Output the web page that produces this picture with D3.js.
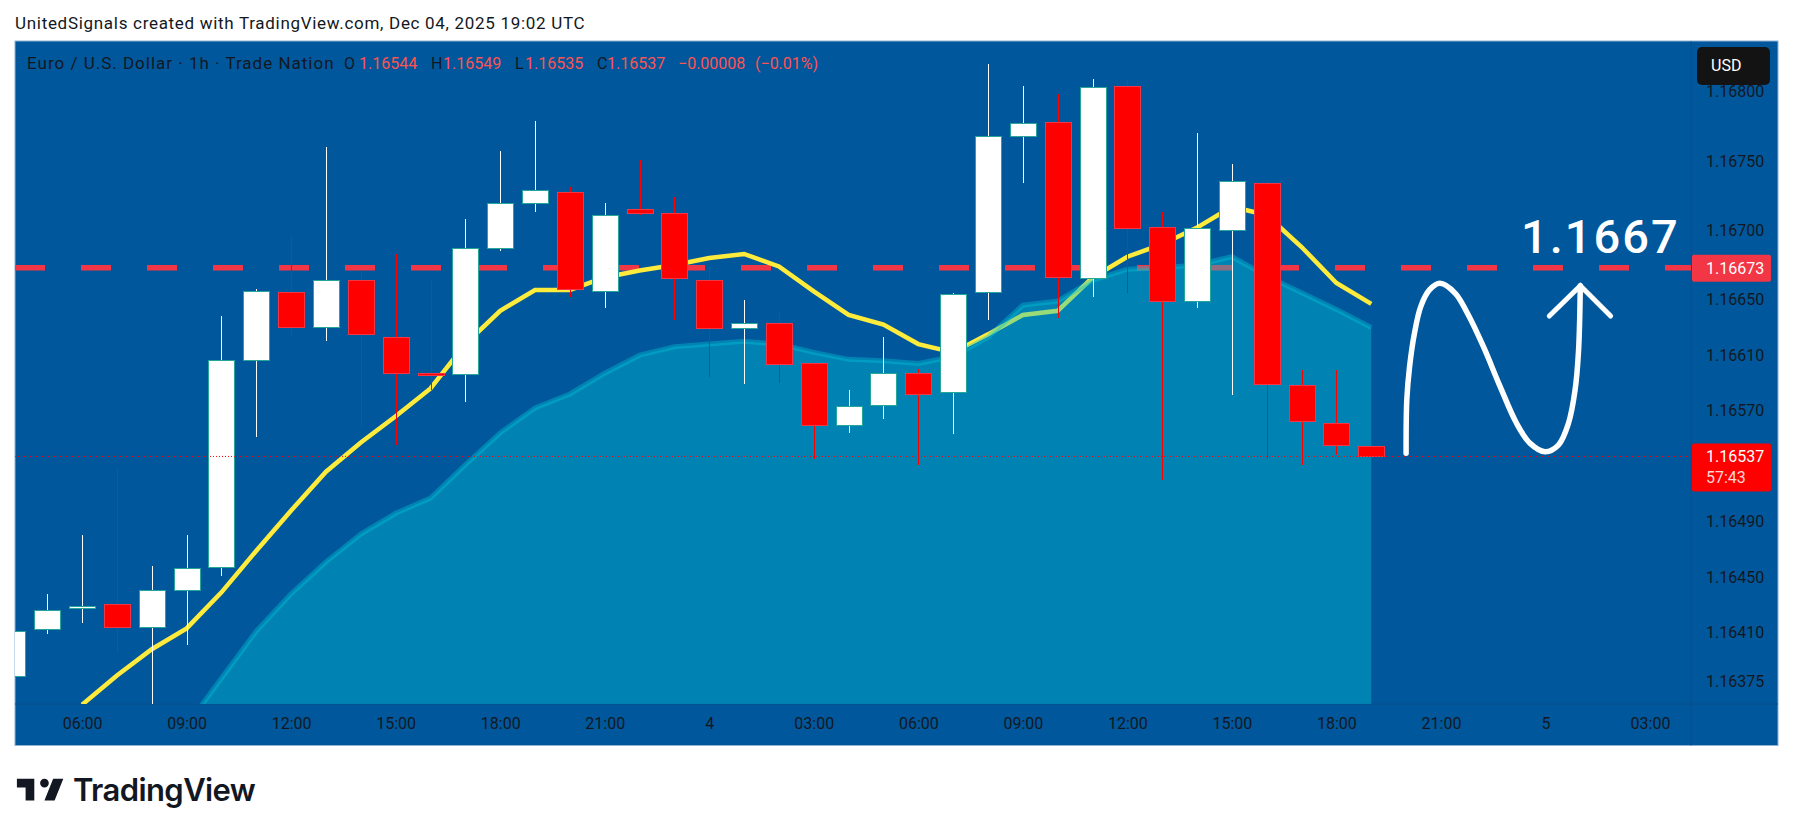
<!DOCTYPE html>
<html>
<head>
<meta charset="utf-8">
<script src="https://cdn.jsdelivr.net/npm/d3@7"></script>
<style>
  html, body { margin: 0; padding: 0; background: #fff; }
  svg { display: block; }
  text { font-family: Roboto, sans-serif; font-size: 16px; }
</style>
</head>
<body>
<script>
// hours counted from Dec 3 00:00 UTC
var candleHours = [4,5,6,7,8,9,10,11,12,13,14,15,16,17,18,19,20,21,22,23,24,25,26,27,28,29,30,31,32,33,34,35,36,37,38,39,40,41,42,43];
var opens = [1.16378,1.16412,1.16427,1.16430,1.16414,1.16440,1.16457,1.16606,1.16655,1.16630,1.16664,1.16623,1.16597,1.16596,1.16687,1.16719,1.16727,1.16656,1.16715,1.16712,1.16664,1.16629,1.16633,1.16604,1.16559,1.16574,1.16597,1.16583,1.16655,1.16768,1.16778,1.16665,1.16804,1.16702,1.16649,1.16700,1.16734,1.16588,1.16561,1.16544];
var highs = [1.16415,1.16438,1.16480,1.16529,1.16458,1.16480,1.16638,1.16658,1.16696,1.16760,1.16670,1.16683,1.16664,1.16708,1.16757,1.16779,1.16731,1.16720,1.16751,1.16724,1.16674,1.16650,1.16641,1.16604,1.16585,1.16623,1.16600,1.16655,1.16820,1.16804,1.16798,1.16809,1.16809,1.16713,1.16770,1.16748,1.16736,1.16599,1.16599,1.16549];
var lows = [1.16365,1.16409,1.16417,1.16395,1.16355,1.16401,1.16451,1.16551,1.16623,1.16620,1.16558,1.16545,1.16585,1.16576,1.16685,1.16713,1.16652,1.16644,1.16711,1.16635,1.16594,1.16589,1.16590,1.16535,1.16554,1.16564,1.16531,1.16553,1.16635,1.16734,1.16637,1.16652,1.16655,1.16520,1.16644,1.16581,1.16535,1.16531,1.16538,1.16535];
var closes = [1.16411,1.16426,1.16429,1.16414,1.16440,1.16456,1.16606,1.16656,1.16630,1.16664,1.16625,1.16597,1.16595,1.16687,1.16719,1.16729,1.16657,1.16711,1.16712,1.16665,1.16629,1.16633,1.16603,1.16559,1.16573,1.16597,1.16582,1.16654,1.16768,1.16777,1.16666,1.16803,1.16701,1.16649,1.16701,1.16735,1.16589,1.16562,1.16545,1.16537];

var fastHours = [6,7,8,9,10,11,12,13,14,15,16,17,18,19,20,21,22,23,24,25,26,27,28,29,30,31,32,33,34,35,36,37,38,39,40,41,42,43];
var fastValues = [1.16358,1.16379,1.16398,1.16413,1.16439,1.16469,1.16498,1.16526,1.16547,1.16566,1.16586,1.16618,1.16642,1.16657,1.16657,1.16666,1.16671,1.16675,1.16680,1.16683,1.16674,1.16656,1.16639,1.16632,1.16618,1.16612,1.16625,1.16639,1.16642,1.16666,1.16681,1.16690,1.16702,1.16717,1.16711,1.16688,1.16662,1.16647];

var slowHours = [9,10,11,12,13,14,15,16,17,18,19,20,21,22,23,24,25,26,27,28,29,30,31,32,33,34,35,36,37,38,39,40,41,42,43];
var slowValues = [1.16343,1.16377,1.16411,1.16438,1.16461,1.16481,1.16496,1.16507,1.16531,1.16554,1.16572,1.16582,1.16597,1.16610,1.16616,1.16618,1.16620,1.16618,1.16612,1.16607,1.16606,1.16604,1.16609,1.16623,1.16646,1.16649,1.16664,1.16672,1.16673,1.16675,1.16681,1.16667,1.16655,1.16643,1.16630];

var targetLevel = 1.16673;
var lastPrice = 1.16537;

// hand drawn projection, in hours and price
var brushHours = [44,44.02,44.10,44.24,44.42,44.67,44.97,45.41,45.76,46.22,46.70,47.17,47.56,47.99,48.37,48.66,48.85,48.95,49];
var brushPrices = [1.165392,1.165777,1.166017,1.166258,1.166450,1.166570,1.166618,1.166546,1.166402,1.166161,1.165873,1.165609,1.165464,1.165404,1.165452,1.165609,1.165849,1.166137,1.166600];
var arrowHours = [48.11,49,49.87];
var arrowPrices = [1.166382,1.166600,1.166382];

var priceTicks = [1.168,1.1675,1.167,1.1665,1.1661,1.1657,1.1649,1.1645,1.1641,1.16375];
var timeTicks = [6,9,12,15,18,21,24,27,30,33,36,39,42,45,48,51];
var timeLabels = ["06:00","09:00","12:00","15:00","18:00","21:00","4","03:00","06:00","09:00","12:00","15:00","18:00","21:00","5","03:00"];

var legendParts = [
  ["Euro / U.S. Dollar \u00b7 1h \u00b7 Trade Nation", 27, "dark"],
  ["O", 344, "dark"], ["1.16544", 359, "red"],
  ["H", 431, "dark"], ["1.16549", 443, "red"],
  ["L", 515, "dark"], ["1.16535", 525, "red"],
  ["C", 597, "dark"], ["1.16537", 607, "red"],
  ["\u22120.00008", 678, "red"], ["(\u22120.01%)", 755, "red"]
];

var _width = 1793;
var _height = 836;
var frame = {left: 15, top: 41, right: 1778, bottom: 745.5};
var plotRight = 1691;
var plotBottom = 704;
var bgColor = "#00579b";
var textDark = "#131722";
var lineRed = "#f23645";
var slowColor = "#00c3d7";
var candleWidth = 26;

var _xScale = d3.scaleLinear().domain([6, 51]).range([82.1, 1650]);
var _yScale = d3.scaleLinear().domain([1.1675, 1.16375]).range([161, 681.1]);

var svg = d3.select(document.body).append("svg")
    .attr("width", _width)
    .attr("height", _height);

svg.append("text")
    .attr("x", 15)
    .attr("y", 28.5)
    .attr("fill", textDark)
    .style("font-size", "17px")
    .style("letter-spacing", "0.7px")
    .text("UnitedSignals created with TradingView.com, Dec 04, 2025 19:02 UTC");

svg.append("rect")
    .attr("x", frame.left)
    .attr("y", frame.top)
    .attr("width", frame.right - frame.left)
    .attr("height", frame.bottom - frame.top)
    .attr("fill", bgColor)
    .attr("stroke", "#8fb3d1");

svg.append("defs").append("clipPath")
    .attr("id", "plot")
    .append("rect")
    .attr("x", frame.left)
    .attr("y", frame.top)
    .attr("width", plotRight - frame.left)
    .attr("height", plotBottom - frame.top);

// separators between plot and axes
svg.append("line")
    .attr("x1", plotRight).attr("x2", plotRight)
    .attr("y1", frame.top).attr("y2", frame.bottom)
    .attr("stroke", "#0a4f8c");
svg.append("line")
    .attr("x1", frame.left).attr("x2", frame.right)
    .attr("y1", plotBottom).attr("y2", plotBottom)
    .attr("stroke", "#0a4f8c");

var plot = svg.append("g").attr("clip-path", "url(#plot)");

plot.append("line")
    .attr("x1", frame.left).attr("x2", plotRight)
    .attr("y1", _yScale(targetLevel)).attr("y2", _yScale(targetLevel))
    .attr("stroke", lineRed)
    .attr("stroke-width", 5.5)
    .attr("stroke-dasharray", "30,36");

var fastLine = d3.line()
    .x(function(d, i) { return _xScale(fastHours[i]); })
    .y(function(d) { return _yScale(d); });

plot.append("path")
    .attr("d", fastLine(fastValues))
    .attr("fill", "none")
    .attr("stroke", "#ffeb3b")
    .attr("stroke-width", 4.5);

var slowArea = d3.area()
    .x(function(d, i) { return _xScale(slowHours[i]); })
    .y0(plotBottom)
    .y1(function(d) { return _yScale(d); });
var slowLine = d3.line()
    .x(function(d, i) { return _xScale(slowHours[i]); })
    .y(function(d) { return _yScale(d); });

plot.append("path")
    .attr("d", slowArea(slowValues))
    .attr("fill", slowColor)
    .attr("fill-opacity", 0.4);
plot.append("path")
    .attr("d", slowLine(slowValues))
    .attr("fill", "none")
    .attr("stroke", slowColor)
    .attr("stroke-opacity", 0.4)
    .attr("stroke-width", 5);

var candles = plot.selectAll("g.candle").data(candleHours).enter().append("g")
    .attr("class", "candle");

function isUp(i) { return closes[i] >= opens[i]; }

candles.append("line")
    .attr("x1", function(d) { return Math.round(_xScale(d)) + 0.5; })
    .attr("x2", function(d) { return Math.round(_xScale(d)) + 0.5; })
    .attr("y1", function(d, i) { return _yScale(highs[i]); })
    .attr("y2", function(d, i) { return _yScale(lows[i]); })
    .attr("shape-rendering", "crispEdges")
    .attr("stroke", function(d, i) { return isUp(i) ? "#ffffff" : "#ff0000"; });

candles.append("rect")
    .attr("x", function(d) { return Math.round(_xScale(d)) + 0.5 - candleWidth / 2; })
    .attr("y", function(d, i) { return _yScale(Math.max(opens[i], closes[i])); })
    .attr("width", candleWidth)
    .attr("height", function(d, i) { return Math.abs(_yScale(opens[i]) - _yScale(closes[i])); })
    .attr("shape-rendering", "crispEdges")
    .attr("fill", function(d, i) { return isUp(i) ? "#ffffff" : "#ff0000"; })
    .attr("stroke", function(d, i) { return isUp(i) ? "#26a69a" : "#f23645"; });

plot.append("line")
    .attr("x1", frame.left).attr("x2", plotRight)
    .attr("y1", _yScale(lastPrice)).attr("y2", _yScale(lastPrice))
    .attr("stroke", "#ff0000")
    .attr("stroke-dasharray", "1,2");

// white projection drawing
var brush = d3.line()
    .x(function(d, i) { return _xScale(brushHours[i]); })
    .y(function(d) { return _yScale(d); })
    .curve(d3.curveCatmullRom);
var arrow = d3.line()
    .x(function(d, i) { return _xScale(arrowHours[i]); })
    .y(function(d) { return _yScale(d); });

plot.append("path")
    .attr("d", brush(brushPrices))
    .attr("fill", "none")
    .attr("stroke", "#ffffff")
    .attr("stroke-width", 5.5)
    .attr("stroke-linecap", "round");
plot.append("path")
    .attr("d", arrow(arrowPrices))
    .attr("fill", "none")
    .attr("stroke", "#ffffff")
    .attr("stroke-width", 5)
    .attr("stroke-linecap", "round")
    .attr("stroke-linejoin", "miter");

plot.append("text")
    .attr("x", _xScale(47.3))
    .attr("y", 253.3)
    .attr("fill", "#ffffff")
    .style("font-size", "47px")
    .style("font-weight", 500)
    .style("letter-spacing", "2px")
    .text("1.1667");

// legend line
svg.selectAll("text.legend").data(legendParts).enter().append("text")
    .attr("class", "legend")
    .attr("x", function(d) { return d[1]; })
    .attr("y", 69)
    .attr("fill", function(d) { return d[2] == "red" ? "#ff5252" : textDark; })
    .style("font-size", function(d, i) { return i == 0 ? "17px" : "16px"; })
    .style("letter-spacing", function(d, i) { return i == 0 ? "1px" : "0"; })
    .text(function(d) { return d[0]; });

// axes
var _xAxis = d3.axisBottom(_xScale)
    .tickValues(timeTicks)
    .tickSize(0)
    .tickPadding(14)
    .tickFormat(function(d, i) { return timeLabels[i]; });
var _yAxis = d3.axisRight(_yScale)
    .tickValues(priceTicks)
    .tickSize(0)
    .tickPadding(15)
    .tickFormat(d3.format(".5f"));

var axisX = svg.append("g")
    .attr("transform", "translate(0," + plotBottom + ")")
    .call(_xAxis);
var axisY = svg.append("g")
    .attr("transform", "translate(" + plotRight + ",0)")
    .call(_yAxis);
[axisX, axisY].forEach(function(a) {
  a.select(".domain").remove();
  a.selectAll("text")
      .attr("fill", textDark)
      .style("font-family", "Roboto, sans-serif")
      .style("font-size", "16px");
});

// USD button and price labels
svg.append("rect")
    .attr("x", 1697).attr("y", 47)
    .attr("width", 73).attr("height", 38)
    .attr("rx", 5)
    .attr("fill", "#131313");
svg.append("text")
    .attr("x", 1711).attr("y", 71)
    .attr("fill", "#ffffff")
    .text("USD");

svg.append("rect")
    .attr("x", plotRight + 1).attr("y", _yScale(targetLevel) - 13)
    .attr("width", 79).attr("height", 27)
    .attr("rx", 2)
    .attr("fill", lineRed);
svg.append("text")
    .attr("x", 1706).attr("y", _yScale(targetLevel) + 6)
    .attr("fill", "#ffffff")
    .text(d3.format(".5f")(targetLevel));

svg.append("rect")
    .attr("x", plotRight + 1).attr("y", _yScale(lastPrice) - 13)
    .attr("width", 79).attr("height", 48)
    .attr("rx", 2)
    .attr("fill", "#ff0000");
svg.append("text")
    .attr("x", 1706).attr("y", _yScale(lastPrice) + 6)
    .attr("fill", "#ffffff")
    .text(d3.format(".5f")(lastPrice));
svg.append("text")
    .attr("x", 1706).attr("y", _yScale(lastPrice) + 27)
    .attr("fill", "#ffd6d6")
    .text("57:43");

// logo
svg.append("path")
    .attr("transform", "translate(14,770) scale(1.45)")
    .attr("d", "M14 6H2v6h6v9h6V6zm14 15h-7l6-15h7l-6 15zm-7-9a3 3 0 1 0 0-6 3 3 0 0 0 0 6z")
    .attr("fill", textDark);
svg.append("text")
    .attr("x", 73)
    .attr("y", 801)
    .attr("fill", textDark)
    .style("font-family", "Inter, sans-serif")
    .style("font-size", "31px")
    .style("font-weight", 600)
    .style("letter-spacing", "-0.6px")
    .text("TradingView");
</script>
</body>
</html>
